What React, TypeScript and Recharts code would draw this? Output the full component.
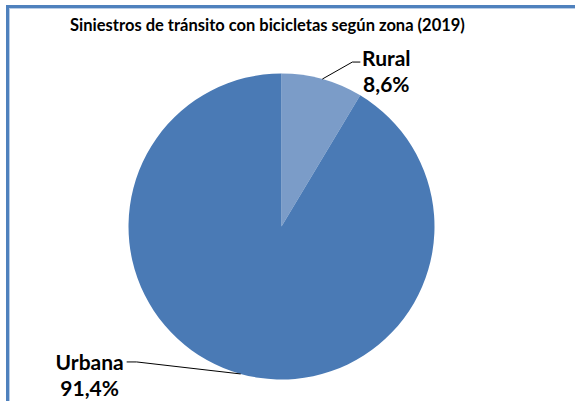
import React from 'react';
import { PieChart, Pie, Cell } from 'recharts';

// chart values
const zones = ['Rural', 'Urbana'];
const shares = [8.6, 91.4];
const shareLabels = ['8,6%', '91,4%'];

const COLORS = ['#7b9cc8', '#4a7ab5'];

const data = zones.map((name, i) => ({ name, value: shares[i], label: shareLabels[i] }));

// where each label sits relative to the point on the pie edge
const LABEL_LAYOUT = [
  { elbow: [30, -17], end: [38, -17], text: [64, -22] },
  { elbow: [-104, -12], end: [-114, -12], text: [-151, -12] },
];

const RADIAN = Math.PI / 180;

const renderLabel = (props: any) => {
  const { cx, cy, midAngle, outerRadius, index, payload } = props;
  const ex = cx + outerRadius * Math.cos(-midAngle * RADIAN);
  const ey = cy + outerRadius * Math.sin(-midAngle * RADIAN);
  const lay = LABEL_LAYOUT[index];
  const tx = ex + lay.text[0];
  const ty = ey + lay.text[1];
  return (
    <g>
      <polyline
        points={`${ex},${ey} ${ex + lay.elbow[0]},${ey + lay.elbow[1]} ${ex + lay.end[0]},${ey + lay.end[1]}`}
        fill="none"
        stroke="#000"
        strokeWidth={1}
      />
      <text x={tx} y={ty} textAnchor="middle" dominantBaseline="central" fontSize={21} fontWeight="bold" fill="#000">
        {payload.name}
      </text>
      <text x={tx} y={ty + 26} textAnchor="middle" dominantBaseline="central" fontSize={21} fontWeight="bold" fill="#000">
        {payload.label}
      </text>
    </g>
  );
};

const App = () => {
  return (
    <div
      style={{
        position: 'absolute',
        left: 0,
        top: 0,
        width: 575,
        height: 401,
        overflow: 'hidden',
        background: '#fff',
        fontFamily: 'Lato, sans-serif',
      }}
    >
      <div
        style={{
          position: 'absolute',
          left: 6,
          top: 5,
          width: 620,
          height: 450,
          border: '3px solid #4f81bd',
          boxShadow: 'inset 1px 1px 0 #b9cde6',
        }}
      />
      <div
        style={{
          position: 'absolute',
          left: 0,
          top: 14,
          width: 535,
          textAlign: 'center',
          fontSize: 16.5,
          fontWeight: 'bold',
          color: '#000',
          lineHeight: '22px',
        }}
      >
        Siniestros de tránsito con bicicletas según zona (2019)
      </div>
      <div style={{ position: 'absolute', left: 0, top: 0 }}>
        <PieChart width={575} height={401} margin={{ top: 0, right: 0, bottom: 0, left: 0 }}>
          <Pie
            data={data}
            dataKey="value"
            nameKey="name"
            cx={281.5}
            cy={226.5}
            outerRadius={153}
            startAngle={90}
            endAngle={-270}
            stroke="none"
            label={renderLabel}
            labelLine={false}
            isAnimationActive={false}
          >
            {data.map((entry, index) => (
              <Cell key={`cell-${index}`} fill={COLORS[index % COLORS.length]} />
            ))}
          </Pie>
        </PieChart>
      </div>
    </div>
  );
};

export default App;
